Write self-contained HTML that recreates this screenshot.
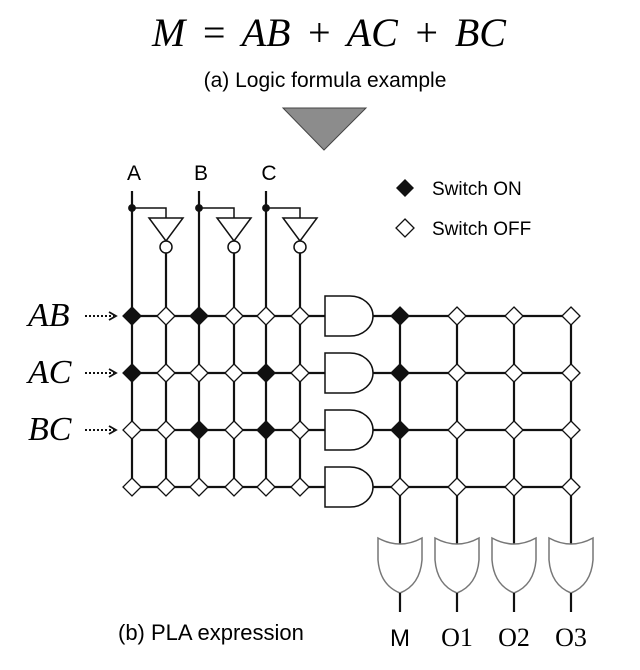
<!DOCTYPE html>
<html><head><meta charset="utf-8"><style>body{margin:0;background:#fff}svg{display:block}</style></head><body>
<svg width="640" height="670" viewBox="0 0 640 670" xmlns="http://www.w3.org/2000/svg">
<text x="329" y="46" text-anchor="middle" font-family="Liberation Serif, serif" font-style="italic" font-size="40" word-spacing="5">M = AB + AC + BC</text>
<text x="325" y="87" text-anchor="middle" font-family="Liberation Sans, sans-serif" font-size="21">(a) Logic formula example</text>
<polygon points="283,108 366,108 324,150" fill="#8c8c8c" stroke="#444" stroke-width="1"/>
<g id="g" stroke="#111" stroke-width="2.2" fill="none"></g>
<g font-family="Liberation Sans, sans-serif" font-size="19">
<polygon points="405,179 414,188 405,197 396,188" fill="#111"/>
<text x="432" y="195">Switch ON</text>
<polygon points="405,219 414,228 405,237 396,228" fill="#fff" stroke="#111" stroke-width="1.3"/>
<text x="432" y="235">Switch OFF</text>
</g>
<g font-family="Liberation Sans, sans-serif" font-size="21" text-anchor="middle">
<text x="134" y="180">A</text>
<text x="201" y="180">B</text>
<text x="269" y="180">C</text>
</g>
<g font-family="Liberation Serif, serif" font-style="italic" font-size="34">
<text x="28" y="326">AB</text>
<text x="28" y="383">AC</text>
<text x="28" y="440">BC</text>
</g>
<text x="118" y="640" font-family="Liberation Sans, sans-serif" font-size="22">(b) PLA expression</text>
<g font-family="Liberation Serif, serif" font-size="26" text-anchor="middle">
<text x="400" y="646" font-family="Liberation Sans, sans-serif" font-size="24">M</text>
<text x="457" y="646">O1</text>
<text x="514" y="646">O2</text>
<text x="571" y="646">O3</text>
</g>
</svg>
<script>
const inCols=[132,166,199,234,266,300];
const rows=[316,373,430,487];
const outCols=[400,457,514,571];
const andSw=[[1,0,1,0,0,0],[1,0,0,0,1,0],[0,0,1,0,1,0],[0,0,0,0,0,0]];
const orSw=[[1,0,0,0],[1,0,0,0],[1,0,0,0],[0,0,0,0]];
const NS='http://www.w3.org/2000/svg';
const g=document.getElementById('g');


function el(t,a,p){const e=document.createElementNS(NS,t);for(const k in a)e.setAttribute(k,a[k]);(p||g).appendChild(e);return e;}
for(let i=0;i<3;i++){const x=inCols[2*i],xi=inCols[2*i+1];
 const l=el('line',{x1:x,y1:191,x2:x,y2:rows[3]});
 
 el('circle',{cx:x,cy:208,r:2.8,fill:'#111'});
 el('polyline',{points:`${x},208 ${xi},208 ${xi},218`,'stroke-width':1.5});
 const inv=el('polygon',{points:`${xi-17},218 ${xi+17},218 ${xi},241`,fill:'#fff','stroke-width':1.5});
 
 el('circle',{cx:xi,cy:247,r:6,fill:'#fff','stroke-width':1.5});
 el('line',{x1:xi,y1:253,x2:xi,y2:rows[3]});
}
rows.forEach((y,r)=>{
 el('line',{x1:inCols[0],y1:y,x2:325,y2:y});
 el('line',{x1:373,y1:y,x2:outCols[3],y2:y});
 const a=el('path',{d:`M325,${y-20} H350 A23,20 0 0 1 350,${y+20} H325 Z`,fill:'#fff','stroke-width':1.5});
 
});
outCols.forEach((x,c)=>{
 el('line',{x1:x,y1:rows[0],x2:x,y2:545});
 const o=el('path',{d:`M${x-22},538 Q${x},550 ${x+22},538 L${x+22},560 Q${x+20},585 ${x},593 Q${x-20},585 ${x-22},560 Z`,fill:'#fff',stroke:'#777','stroke-width':1.5});
 
 el('line',{x1:x,y1:593,x2:x,y2:612});
});
function dia(x,y,on){const d=el('polygon',{points:`${x},${y-9} ${x+9},${y} ${x},${y+9} ${x-9},${y}`,fill:on?'#111':'#fff','stroke-width':1.3});
 }
rows.forEach((y,r)=>{inCols.forEach((x,c)=>dia(x,y,andSw[r][c]));outCols.forEach((x,c)=>dia(x,y,orSw[r][c]));});
rows.slice(0,3).forEach(y=>{
 const a=el('line',{x1:85,y1:y,x2:114,y2:y,'stroke-dasharray':'2,2','stroke-width':2});
 
 el('polyline',{points:`${109},${y-4} ${116},${y} ${109},${y+4}`,'stroke-width':1.8});
});
</script>
</body></html>
